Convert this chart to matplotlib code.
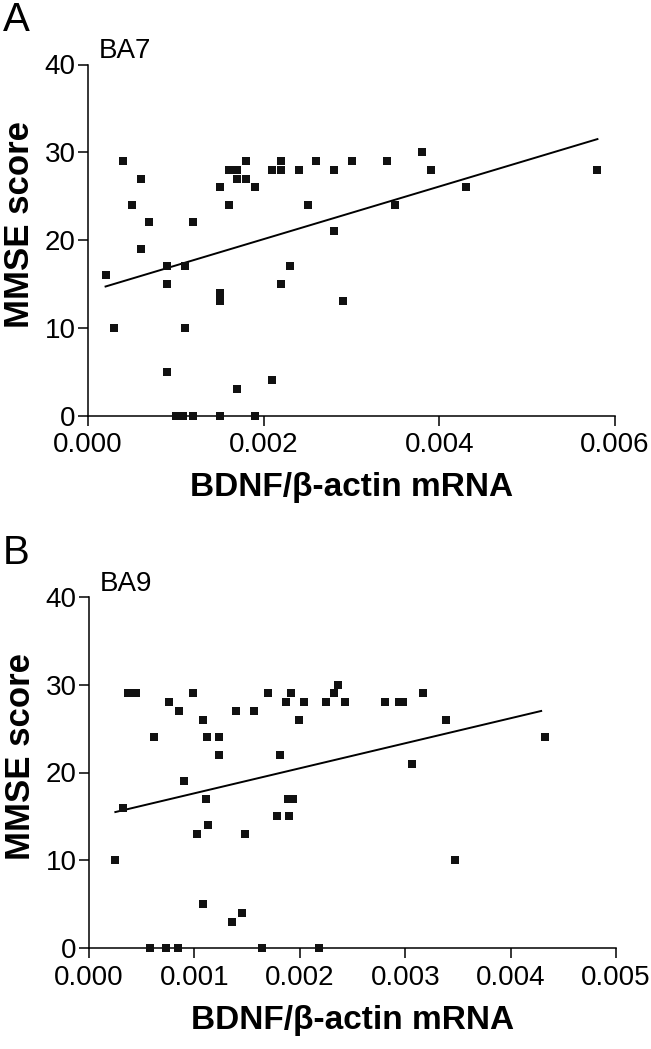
import numpy as np
import matplotlib.pyplot as plt

plt.rcParams['font.family'] = ['Liberation Sans', 'DejaVu Sans']

# --------- BA7 (panel A) --------- #
ba7_x = [0.0002, 0.0003, 0.0004, 0.0005, 0.0006, 0.0006, 0.0007, 0.0009, 0.0009, 0.0009,
         0.0010, 0.0011, 0.0011, 0.00108, 0.0012, 0.0012, 0.0015, 0.0015, 0.0015, 0.0015,
         0.0016, 0.0016, 0.0017, 0.0017, 0.0017, 0.0018, 0.0018, 0.0019, 0.0019, 0.0021,
         0.0021, 0.0022, 0.0022, 0.0022, 0.0023, 0.0024, 0.0025, 0.0026, 0.0028, 0.0028,
         0.0029, 0.0030, 0.0034, 0.0035, 0.0038, 0.0039, 0.0043, 0.0058]
ba7_y = [16, 10, 29, 24, 27, 19, 22, 17, 15, 5,
         0, 17, 10, 0, 22, 0, 26, 14, 13, 0,
         28, 24, 28, 27, 3, 29, 27, 26, 0, 28,
         4, 29, 28, 15, 17, 28, 24, 29, 28, 21,
         13, 29, 29, 24, 30, 28, 26, 28]
ba7_fit_x = [0.0002, 0.0058]
ba7_fit_y = [14.7, 31.5]

# --------- BA9 (panel B) --------- #
ba9_x = [0.00025, 0.00032, 0.00037, 0.00045, 0.00058, 0.00062, 0.00073, 0.00076, 0.00084, 0.00085,
         0.00090, 0.00099, 0.00102, 0.00108, 0.00108, 0.00111, 0.00112, 0.00113, 0.00123, 0.00123,
         0.00136, 0.00139, 0.00145, 0.00148, 0.00157, 0.00164, 0.00170, 0.00178, 0.00181, 0.00187,
         0.00189, 0.00190, 0.00192, 0.00194, 0.00199, 0.00204, 0.00218, 0.00225, 0.00232, 0.00236,
         0.00243, 0.00281, 0.00294, 0.00298, 0.00306, 0.00317, 0.00339, 0.00347, 0.00433]
ba9_y = [10, 16, 29, 29, 0, 24, 0, 28, 0, 27,
         19, 29, 13, 26, 5, 17, 24, 14, 24, 22,
         3, 27, 4, 13, 27, 0, 29, 15, 22, 28,
         17, 15, 29, 17, 26, 28, 0, 28, 29, 30,
         28, 28, 28, 28, 21, 29, 26, 10, 24]
ba9_fit_x = [0.00025, 0.00429]
ba9_fit_y = [15.5, 27.0]

W, H = 651, 1049
fig = plt.figure(figsize=(W/100, H/100), dpi=100)

def panel(rect, x, y, fx, fy, xmax, xticks, xticklabels, region):
    ax = fig.add_axes(rect)
    ax.scatter(x, y, marker='s', s=34, color='#111111', linewidths=0, clip_on=False, zorder=3)
    ax.plot(fx, fy, color='black', lw=1.4)
    ax.set_xlim(0, xmax)
    ax.set_ylim(0, 40)
    ax.set_xticks(xticks)
    ax.set_xticklabels(xticklabels)
    ax.set_yticks([0, 10, 20, 30, 40])
    for s in ['top', 'right']:
        ax.spines[s].set_visible(False)
    for s in ['left', 'bottom']:
        ax.spines[s].set_linewidth(1.1)
    ax.tick_params(axis='y', direction='out', length=7, width=1.1, labelsize=20, pad=2)
    ax.tick_params(axis='x', direction='out', length=7, width=1.1, labelsize=20, pad=5)
    ax.set_ylabel("MMSE score", fontsize=25, fontweight='bold')
    ax.yaxis.set_label_coords(-0.098, 0.545)
    ax.set_xlabel("BDNF/β-actin mRNA", fontsize=24, fontweight='bold', labelpad=10)
    ax.text(0.02, 1.0, region, transform=ax.transAxes, fontsize=20, va='bottom', ha='left')
    return ax

panel([88/W, 1 - 415.5/H, (615 - 88)/W, (415.5 - 64.5)/H], ba7_x, ba7_y, ba7_fit_x, ba7_fit_y,
      0.006, [0, 0.002, 0.004, 0.006], ["0.000", "0.002", "0.004", "0.006"], "BA7")
panel([89/W, 1 - 948.3/H, (616 - 89)/W, (948.3 - 596.7)/H], ba9_x, ba9_y, ba9_fit_x, ba9_fit_y,
      0.005, [0, 0.001, 0.002, 0.003, 0.004, 0.005],
      ["0.000", "0.001", "0.002", "0.003", "0.004", "0.005"], "BA9")

fig.text(3/W, 1 - 1/H, "A", fontsize=29, va='top', ha='left')
fig.text(3/W, 1 - 534/H, "B", fontsize=29, va='top', ha='left')

plt.savefig("out.png", dpi=100)
